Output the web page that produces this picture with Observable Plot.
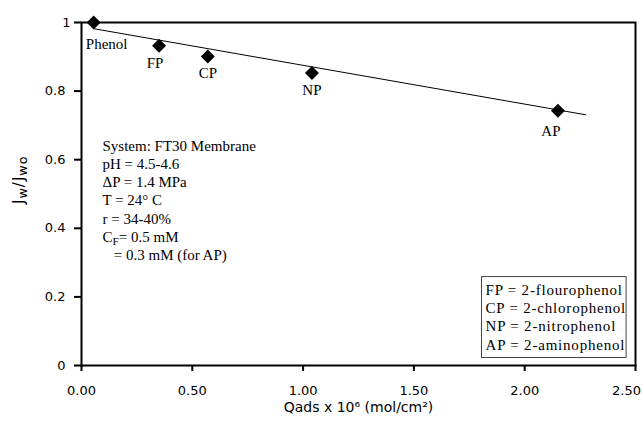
<!DOCTYPE html>
<html><head><meta charset="utf-8">
<script src="https://cdn.jsdelivr.net/npm/d3@7"></script>
<script src="https://cdn.jsdelivr.net/npm/@observablehq/plot@0.6"></script>
<style>body{margin:0;background:#fff}</style>
</head><body><div id="chart"></div>
<script>
const compounds = ["Phenol", "FP", "CP", "NP", "AP"];
const qads = [0.055, 0.35, 0.57, 1.04, 2.15];
const fluxRatio = [1.0, 0.932, 0.901, 0.853, 0.743];
const fitX = [0.055, 2.275];
const fitY = [0.982, 0.731];
const xTicks = [0, 0.5, 1, 1.5, 2, 2.5];
const yTicks = [0, 0.2, 0.4, 0.6, 0.8, 1];
const conditionLines = ["System: FT30 Membrane", "pH = 4.5-4.6", "\u0394P = 1.4 MPa", "T = 24\u00b0 C", "r = 34-40%", "CF= 0.5 mM", "\u00a0\u00a0\u00a0= 0.3 mM (for AP)"];
const legendLines = ["FP = 2-flourophenol", "CP = 2-chlorophenol", "NP = 2-nitrophenol", "AP = 2-aminophenol"];
const xTitle = "Qads x 10\u2076 (mol/cm\u00b2)";
const yTitle = "Jw/Jwo";

const points = compounds.map((name, i) => ({name, x: qads[i], y: fluxRatio[i]}));
const fit = fitX.map((x, i) => ({x, y: fitY[i]}));
const labelOffsets = [[13, 22], [-4, 17], [0, 17], [0, 17], [-7, 21]];
const lastX = xTicks[xTicks.length - 1];
const lastY = yTicks[yTicks.length - 1];

const serif = "'Liberation Serif','Times New Roman',serif";
const sans = "'DejaVu Sans',Verdana,sans-serif";

const chart = Plot.plot({
  width: 642, height: 422,
  marginLeft: 81, marginRight: 7, marginTop: 22, marginBottom: 57,
  style: {fontFamily: sans, fontSize: "13px", color: "#000", background: "#fff"},
  x: {domain: [0, 2.5]},
  y: {domain: [0, 1]},
  marks: [
    Plot.line(fit, {x: "x", y: "y", stroke: "#000", strokeWidth: 1}),
    Plot.dot(points, {x: "x", y: "y", symbol: "diamond2", r: 6.3, fill: "#000", stroke: "none"}),
    ...points.map((p, i) => Plot.text([p], {x: "x", y: "y", text: "name", dx: labelOffsets[i][0], dy: labelOffsets[i][1], fontFamily: serif, fontSize: 15})),
    Plot.text([conditionLines.join("\n")], {frameAnchor: "top-left", textAnchor: "start", lineAnchor: "top", dx: 21, dy: 115, lineHeight: 1.22, fontFamily: serif, fontSize: 15}),
    Plot.text([legendLines.join("\n")], {frameAnchor: "bottom-right", textAnchor: "start", lineAnchor: "bottom", dx: -150, dy: -16, lineHeight: 1.22, fontFamily: serif, fontSize: 15}),
    Plot.text([yTitle], {frameAnchor: "left", rotate: -90, dx: -62, dy: 10, fontFamily: sans, fontSize: 15}),
    Plot.text([xTitle], {frameAnchor: "bottom", dy: 46, fontFamily: sans, fontSize: 14}),
    Plot.axisX({ticks: xTicks, tickFormat: d => d === lastX ? "" : d.toFixed(2), tickSize: 6, tickPadding: 14, strokeWidth: 2, label: null, fontSize: 13}),
    Plot.axisX({ticks: [lastX], tickFormat: d => d.toFixed(2), tickSize: 0, tickPadding: 20, dx: -9, label: null, fontSize: 13}),
    Plot.axisY({ticks: yTicks, tickFormat: d => d === lastY ? "" : String(d), tickSize: 7, tickPadding: 9, strokeWidth: 2, label: null, fontSize: 13}),
    Plot.axisY({ticks: [lastY], tickFormat: d => String(d), tickSize: 0, tickPadding: 11, label: null, fontSize: 13}),
    Plot.frame({stroke: "#000", strokeWidth: 2})
  ]
});
document.getElementById("chart").appendChild(chart);

const svg = d3.select(chart);
// subscripts
svg.selectAll("text").each(function() {
  const t = d3.select(this);
  if (this.textContent === yTitle) {
    t.text(null).style("letter-spacing", "1px");
    t.append("tspan").text("J");
    t.append("tspan").attr("dy", 3).attr("font-size", "85%").text("w");
    t.append("tspan").attr("dy", -3).text("/J");
    t.append("tspan").attr("dy", 3).attr("font-size", "85%").text("wo");
  }
});
svg.selectAll("tspan").each(function() {
  if (this.textContent === "CF= 0.5 mM") {
    const t = d3.select(this);
    t.text(null);
    t.append("tspan").text("C");
    t.append("tspan").attr("dy", 3).attr("font-size", "75%").text("F");
    t.append("tspan").attr("dy", -3).text("= 0.5 mM");
  }
});
// legend box
svg.selectAll("text").each(function() {
  if (this.textContent.startsWith("FP = ")) {
    d3.select(this).style("letter-spacing", "0.8px");
    const bb = this.getBBox();
    const ctm = this.getCTM();
    const x = bb.x + (ctm ? ctm.e : 0), y = bb.y + (ctm ? ctm.f : 0);
    svg.append("rect")
      .attr("x", x - 4).attr("y", y - 5)
      .attr("width", bb.width + 4).attr("height", bb.height + 10)
      .attr("fill", "none").attr("stroke", "#444").attr("stroke-width", 1);
  }
});
</script>
</body></html>
